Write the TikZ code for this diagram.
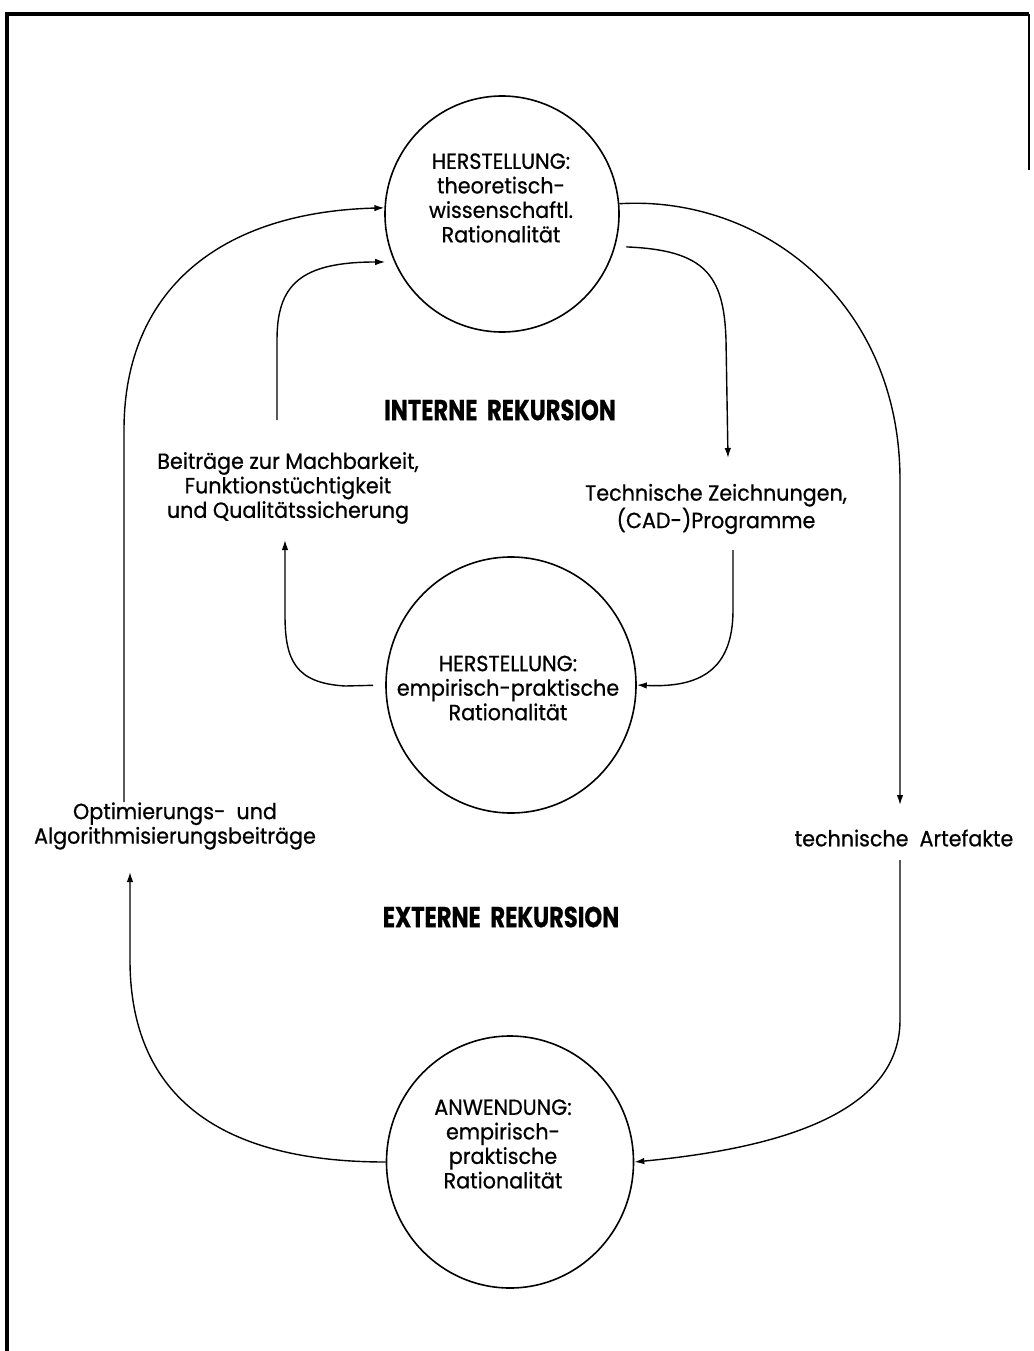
\documentclass[tikz,border=0pt]{standalone}
\usepackage{fontspec}
\setmainfont{Poppins}[FakeStretch=0.94, FakeBold=0.7]
\newfontfamily\headfont{Poppins}[FakeStretch=0.78, FakeBold=0.6]
\usetikzlibrary{shapes.geometric,arrows.meta}

\tikzset{
  blob/.style={ellipse, draw, line width=1.6pt, inner sep=0pt},
  lbl/.style={align=center, inner sep=0pt, font=\fontsize{22}{24.5}\selectfont},
  head/.style={inner sep=0pt, font=\headfont\bfseries\fontsize{29}{32}\selectfont},
  flow/.style={line width=1.4pt, -{Latex[length=10pt,width=6.5pt]}},
  frame/.style={line width=3.2pt}
}

\begin{document}
\begin{tikzpicture}[x=1pt,y=-1pt]
  \useasboundingbox (0,0) rectangle (1033,1351);

  % page frame
  \draw[frame] (7,1351) -- (7,14) -- (1029,14);
  \draw[line width=2.2pt] (1029,14) -- (1029,170);

  % the three rationalities
  \node[blob, minimum width=234pt, minimum height=236pt] (Top) at (502,214) {};
  \node[blob, minimum width=250pt, minimum height=256pt] (Mid) at (511,685) {};
  \node[blob, minimum width=247pt, minimum height=252pt] (Bot) at (510,1162) {};

  \node[lbl] (TopL) at (501,198) {HERSTELLUNG:\\theoretisch-\\wissenschaftl.\\Rationalität};
  \node[lbl] (MidL) at (508,688) {HERSTELLUNG:\\empirisch-praktische\\Rationalität};
  \node[lbl] (BotL) at (503,1144) {ANWENDUNG:\\empirisch-\\praktische\\Rationalität};

  % headings
  \node[head] (intern) at (500,410) {INTERNE\ \ REKURSION};
  \node[head] (extern) at (501,917) {EXTERNE\ \ REKURSION};

  % connector labels
  \node[lbl] (beitr) at (288,488) {Beiträge zur Machbarkeit,\\Funktionstüchtigkeit\\und Qualitätssicherung};
  \node[lbl] (techz) at (716,509) {Technische Zeichnungen,\\(CAD-)Programme};
  \node[lbl] (optim) at (175,826) {Optimierungs-\ \ und\\Algorithmisierungsbeiträge};
  \node[lbl] (artef) at (904,838) {technische\ \ Artefakte};

  % free ends of the connectors
  \coordinate (aTip) at (130,872);
  \coordinate (bStart) at (124,802);
  \coordinate (cStart) at (277,420);
  \coordinate (dTip) at (285,540);
  \coordinate (eTip) at (728,458);
  \coordinate (fStart) at (733,550);
  \coordinate (gTip) at (900,805);
  \coordinate (hStart) at (900,860);

  % external recursion
  \draw[flow] (Bot.west) .. controls (200,1162) and (130,1080) .. (130,960) -- (aTip);
  \draw[flow] (bStart) -- (124,430) .. controls (124,290) and (220,212) .. (Top.177);
  \draw[flow] (Top.5) .. controls (760,195) and (900,300) .. (900,480) -- (gTip);
  \draw[flow] (hStart) -- (900,1020) .. controls (900,1120) and (760,1150) .. (Bot.east);

  % internal recursion
  \draw[flow, shorten >=9pt] (cStart) -- (277,340) .. controls (277,285) and (300,262) .. (Top.204);
  \draw[flow, shorten <=12pt] (Mid.west) -- (345,686) .. controls (295,683) and (285,660) .. (285,615) -- (dTip);
  \draw[flow, shorten <=11pt] (Top.-16) .. controls (705,250) and (724,275) .. (726,340) -- (eTip);
  \draw[flow] (fStart) -- (733,610) .. controls (733,670) and (700,688) .. (Mid.east);
\end{tikzpicture}
\end{document}
